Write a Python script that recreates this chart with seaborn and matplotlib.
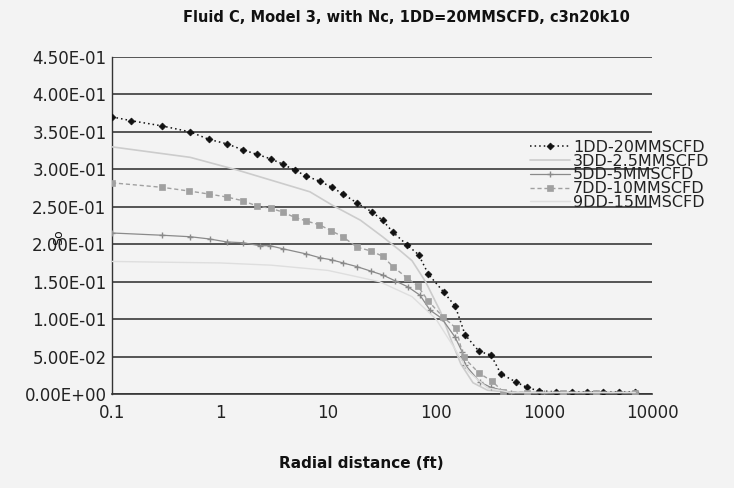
import matplotlib
matplotlib.use("Agg")
import matplotlib.pyplot as plt
import matplotlib.ticker as mticker
import seaborn as sns
import pandas as pd

# ---- data ----
labels = ["1DD-20MMSCFD", "3DD-2.5MMSCFD", "5DD-5MMSCFD", "7DD-10MMSCFD", "9DD-15MMSCFD"]

x_1dd = [0.1, 0.15, 0.29, 0.53, 0.79, 1.16, 1.63, 2.2, 2.95, 3.8, 4.9, 6.3, 8.4, 10.9, 13.8, 18.6,
         25.6, 32, 40, 54, 69, 85, 118, 151, 186, 250, 323, 398, 550, 690, 900, 1300, 1800, 2500,
         3500, 5000, 7000]
y_1dd = [0.370, 0.365, 0.358, 0.350, 0.340, 0.334, 0.326, 0.320, 0.314, 0.307, 0.299, 0.291, 0.284,
         0.276, 0.267, 0.255, 0.243, 0.232, 0.216, 0.199, 0.186, 0.160, 0.136, 0.117, 0.079, 0.057,
         0.052, 0.027, 0.016, 0.009, 0.004, 0.003, 0.003, 0.003, 0.003, 0.003, 0.003]

x_3dd = [0.1, 0.53, 1.45, 3.4, 6.8, 11, 20, 32, 46, 60, 80, 110, 140, 170, 220, 300, 500, 1000,
         3000, 7000]
y_3dd = [0.330, 0.316, 0.299, 0.283, 0.270, 0.252, 0.232, 0.210, 0.192, 0.178, 0.150, 0.110,
         0.070, 0.040, 0.015, 0.005, 0.002, 0.002, 0.002, 0.002]

x_5dd = [0.1, 0.29, 0.53, 0.8, 1.16, 1.63, 2.35, 2.9, 3.8, 6.3, 8.4, 10.9, 13.8, 18.6, 25, 32, 42,
         55, 71, 88, 113, 150, 175, 186, 255, 320, 500, 1000, 3000, 7000]
y_5dd = [0.215, 0.212, 0.210, 0.207, 0.203, 0.202, 0.198, 0.198, 0.194, 0.187, 0.182, 0.179, 0.175,
         0.170, 0.164, 0.159, 0.151, 0.143, 0.132, 0.112, 0.101, 0.076, 0.056, 0.039, 0.016, 0.009,
         0.002, 0.002, 0.002, 0.002]

x_7dd = [0.1, 0.29, 0.52, 0.79, 1.16, 1.63, 2.2, 2.95, 3.8, 4.9, 6.3, 8.3, 10.7, 13.7, 18.6, 25, 32,
         40, 54, 68, 85, 116, 153, 180, 250, 330, 420, 700, 1500, 3000, 7000]
y_7dd = [0.282, 0.276, 0.271, 0.267, 0.263, 0.258, 0.251, 0.248, 0.243, 0.236, 0.231, 0.226, 0.218,
         0.210, 0.196, 0.191, 0.184, 0.170, 0.155, 0.144, 0.124, 0.103, 0.088, 0.049, 0.028, 0.017,
         0.003, 0.002, 0.002, 0.002, 0.002]

x_9dd = [0.1, 0.3, 1, 3, 10, 30, 60, 100, 150, 200, 300, 500, 1000, 3000, 7000]
y_9dd = [0.177, 0.176, 0.175, 0.172, 0.165, 0.150, 0.130, 0.100, 0.060, 0.030, 0.008, 0.002,
         0.002, 0.002, 0.002]

y_ticks = [0.0, 0.05, 0.10, 0.15, 0.20, 0.25, 0.30, 0.35, 0.40, 0.45]
x_ticks = [0.1, 1, 10, 100, 1000, 10000]
x_tick_labels = ["0.1", "1", "10", "100", "1000", "10000"]

title = "Fluid C, Model 3, with Nc, 1DD=20MMSCFD, c3n20k10"
xlabel = "Radial distance (ft)"
ylabel = "So"

series_x = [x_1dd, x_3dd, x_5dd, x_7dd, x_9dd]
series_y = [y_1dd, y_3dd, y_5dd, y_7dd, y_9dd]
frames = [pd.DataFrame({"x": xs, "y": ys, "series": lab})
          for xs, ys, lab in zip(series_x, series_y, labels)]
df = pd.concat(frames, ignore_index=True)

# ---- styling ----
sns.set_theme(style="white")
plt.rcParams["font.family"] = ["DejaVu Sans"]
bg = "#f3f3f3"

fig = plt.figure(figsize=(7.34, 4.88), dpi=100, facecolor=bg)
ax = fig.add_axes([112 / 734, 1 - 394 / 488, (652 - 112) / 734, (394 - 57) / 488])
ax.set_facecolor(bg)

styles = {
    "1DD-20MMSCFD": dict(color="#111111", linestyle=(0, (1, 2)), linewidth=1.1,
                         marker="D", markersize=3.5, markeredgecolor="#111111",
                         markeredgewidth=0.5),
    "3DD-2.5MMSCFD": dict(color="#cccccc", linestyle="-", linewidth=1.2, marker=None),
    "5DD-5MMSCFD": dict(color="#8a8a8a", linestyle="-", linewidth=0.9,
                        marker="+", markersize=5, markeredgewidth=1.0,
                        markeredgecolor="#8a8a8a"),
    "7DD-10MMSCFD": dict(color="#a0a0a0", linestyle=(0, (3, 2)), linewidth=1.0,
                         marker="s", markersize=4, markeredgecolor="#a0a0a0",
                         markeredgewidth=0.5),
    "9DD-15MMSCFD": dict(color="#dedede", linestyle="-", linewidth=1.0, marker=None),
}

# gridlines
for yv in y_ticks:
    ax.axhline(yv, color="#3a3a3a", linewidth=1.2, zorder=1)

for lab in labels:
    st = styles[lab]
    sub = df[df["series"] == lab]
    sns.lineplot(data=sub, x="x", y="y", ax=ax, label=lab, sort=False,
                 estimator=None, zorder=3, **st)

ax.set_xscale("log")
ax.set_xlim(0.1, 10000)
ax.set_ylim(0, 0.45)
ax.set_xticks(x_ticks)
ax.set_xticklabels(x_tick_labels)
ax.xaxis.set_minor_locator(mticker.NullLocator())
ax.set_yticks(y_ticks)
ax.set_yticklabels([f"{v:.2E}" for v in y_ticks])
ax.tick_params(axis="both", labelsize=12, colors="#222222", length=3, width=0.8,
               direction="out")
ax.tick_params(axis="y", pad=1)
ax.tick_params(axis="x", pad=4)

for s in ["top", "right"]:
    ax.spines[s].set_visible(False)
ax.spines["left"].set_color("#333333")
ax.spines["bottom"].set_color("#333333")
ax.spines["left"].set_linewidth(1.0)
ax.spines["bottom"].set_linewidth(1.2)

ax.set_xlabel("")
ax.set_ylabel("")

fig.text(406 / 734, 1 - 17 / 488, title, ha="center", va="center",
         fontsize=10.5, fontweight="bold", color="#111111")
fig.text(361 / 734, 1 - 463 / 488, xlabel, ha="center", va="center",
         fontsize=11, fontweight="bold", color="#111111")
fig.text(59 / 734, 1 - 237 / 488, ylabel, ha="center", va="center", rotation=90,
         fontsize=9, color="#111111")

leg = ax.legend(loc="upper left", bbox_to_anchor=(530 / 734, 1 - 140 / 488),
                bbox_transform=fig.transFigure, frameon=False, fontsize=11.5,
                labelspacing=-0.08, handlelength=2.5, handletextpad=0.2,
                borderpad=0, borderaxespad=0)
for t in leg.get_texts():
    t.set_color("#222222")

fig.savefig("out.png", dpi=100, facecolor=bg)
